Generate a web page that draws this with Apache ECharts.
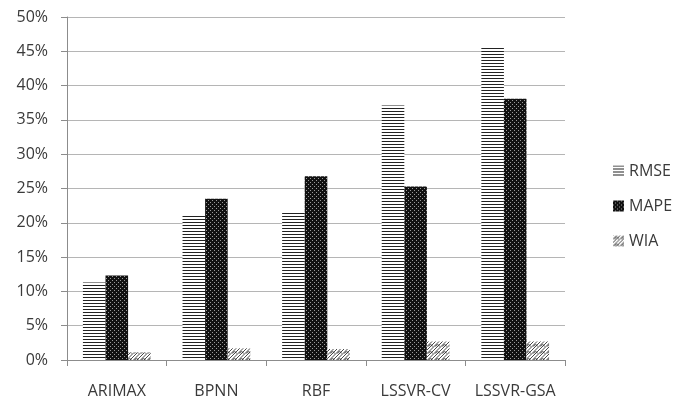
<!DOCTYPE html>
<html>
<head>
<meta charset="utf-8">
<script src="https://cdn.jsdelivr.net/npm/echarts@6/dist/echarts.min.js"></script>
<style>
  html, body { margin: 0; padding: 0; background: #fff; }
  #chart { width: 688px; height: 405px; }
</style>
</head>
<body>
<div id="chart"></div>
<script>
// Error measures (%) per forecasting model
const categories = ['ARIMAX', 'BPNN', 'RBF', 'LSSVR-CV', 'LSSVR-GSA'];
const rmse = [11.3, 21.1, 21.6, 37.1, 45.7];
const mape = [12.3, 23.5, 26.8, 25.3, 38.1];
const wia = [1.1, 1.7, 1.6, 2.7, 2.7];
const yTicks = [0, 5, 10, 15, 20, 25, 30, 35, 40, 45, 50];

// Monochrome fill patterns
function makeCanvas(w, h, draw) {
  const c = document.createElement('canvas');
  c.width = w; c.height = h;
  draw(c.getContext('2d'));
  return c;
}
const stripes = makeCanvas(4, 3, ctx => {
  ctx.fillStyle = '#fff'; ctx.fillRect(0, 0, 4, 3);
  ctx.fillStyle = '#222'; ctx.fillRect(0, 0, 4, 1);
});
const dots = makeCanvas(4, 4, ctx => {
  ctx.fillStyle = '#111'; ctx.fillRect(0, 0, 4, 4);
  ctx.fillStyle = '#9a9a9a';
  ctx.fillRect(0, 0, 1, 1);
  ctx.fillRect(2, 2, 1, 1);
});
const waves = makeCanvas(7, 7, ctx => {
  ctx.fillStyle = '#fff'; ctx.fillRect(0, 0, 7, 7);
  ctx.strokeStyle = '#333'; ctx.lineWidth = 0.9;
  ctx.beginPath();
  ctx.moveTo(0, 7); ctx.lineTo(7, 0);
  ctx.moveTo(-3.5, 7); ctx.lineTo(3.5, 0);
  ctx.moveTo(3.5, 7); ctx.lineTo(10.5, 0);
  ctx.stroke();
  ctx.beginPath();
  ctx.arc(3.5, 3.5, 1.8, Math.PI, 0);
  ctx.stroke();
});

const font = 'Open Sans, Liberation Sans, sans-serif';
const textColor = '#3a3a3a';

function barSeries(name, data, img) {
  return {
    name: name,
    type: 'bar',
    data: data,
    barGap: '0%',
    barCategoryGap: '32%',
    itemStyle: { color: { image: img, repeat: 'repeat' } },
    emphasis: { disabled: true }
  };
}

const chart = echarts.init(document.getElementById('chart'), null, { renderer: 'canvas' });
chart.setOption({
  animation: false,
  backgroundColor: '#fff',
  grid: { left: 67, right: 123, top: 17, bottom: 45, containLabel: false },
  legend: {
    orient: 'vertical',
    left: 608,
    top: 158,
    itemWidth: 11,
    itemHeight: 11,
    itemGap: 19,
    icon: 'rect',
    textStyle: { fontFamily: font, fontSize: 16, color: textColor, lineHeight: 16 },
    data: ['RMSE', 'MAPE', 'WIA']
  },
  xAxis: {
    type: 'category',
    data: categories,
    axisLine: { lineStyle: { color: '#8c8c8c', width: 1 } },
    axisTick: { show: true, length: 6, interval: 0, alignWithLabel: false, lineStyle: { color: '#8c8c8c' } },
    axisLabel: { interval: 0, hideOverlap: false, fontFamily: font, fontSize: 16, color: textColor, margin: 23 }
  },
  yAxis: {
    type: 'value',
    min: yTicks[0],
    max: yTicks[yTicks.length - 1],
    interval: yTicks[1] - yTicks[0],
    axisLine: { show: true, lineStyle: { color: '#8c8c8c', width: 1 } },
    axisTick: { show: true, length: 6, lineStyle: { color: '#8c8c8c' } },
    axisLabel: { fontFamily: font, fontSize: 16, color: textColor, margin: 19, formatter: '{value}%' },
    splitLine: { show: true, lineStyle: { color: '#b5b5b5', width: 1 } }
  },
  series: [
    barSeries('RMSE', rmse, stripes),
    barSeries('MAPE', mape, dots),
    barSeries('WIA', wia, waves)
  ]
});
</script>
</body>
</html>
